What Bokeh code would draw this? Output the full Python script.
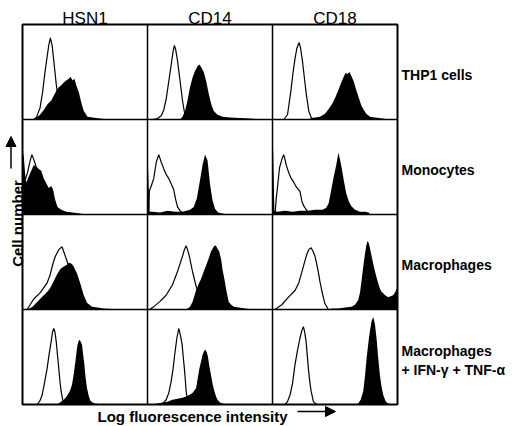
import math
from bokeh.plotting import figure
from bokeh.models import Range1d, Label, Arrow, NormalHead
from bokeh.embed import file_html
from bokeh.resources import INLINE

# ---------------- data ----------------
# x: relative log fluorescence (0-100 % of the 4-decade scale)
# h: cell number (% of panel height)
columns = ["HSN1", "CD14", "CD18"]
rows = ["THP1 cells", "Monocytes", "Macrophages", "Macrophages|+ IFN-\u03b3 + TNF-\u03b1"]

# THP1 cells
thp1_hsn1_iso_x = [9, 11, 14, 16, 18, 21, 22.3, 23.7, 25, 27, 29, 31, 34]
thp1_hsn1_iso_h = [0, 2, 12, 28, 50, 78, 86, 78, 62, 37, 16, 4, 0]
thp1_hsn1_ab_x = [8, 11, 14, 17, 20, 23, 25, 27, 29, 31, 33, 35, 37, 38.5, 40, 41.5, 43, 45, 47, 49, 52, 56, 62, 68]
thp1_hsn1_ab_h = [0, 2, 5, 10, 16, 20, 25, 30, 34, 36, 39, 41, 43, 45, 41, 43, 36, 29, 18, 9, 3, 2, 1, 0]
thp1_cd14_iso_x = [4, 8, 11, 13, 15, 17, 19, 20.5, 21.5, 22.5, 24, 26, 28, 29.5, 31, 33]
thp1_cd14_iso_h = [0, 1, 4, 10, 22, 40, 58, 72, 78, 74, 62, 41, 20, 8, 2, 0]
thp1_cd14_ab_x = [26, 28, 30, 32, 34, 36, 38, 40, 41.5, 43, 45, 47, 49, 51, 53, 56, 60, 66, 74, 82, 90]
thp1_cd14_ab_h = [0, 3, 9, 20, 34, 44, 51, 56, 58, 55, 50, 40, 27, 16, 9, 5, 3, 2, 1.5, 1, 0]
thp1_cd18_iso_x = [9, 12, 14.5, 16.5, 18, 19.5, 21.3, 22.5, 24, 25.5, 27, 29, 31, 33]
thp1_cd18_iso_h = [0, 5, 28, 50, 64, 75, 81, 75, 61, 44, 27, 9, 2, 0]
thp1_cd18_ab_x = [30, 34, 38, 42, 45, 48, 50.5, 53, 55, 57, 58.5, 60, 61.5, 63, 65, 67, 69, 71, 73, 75, 78, 82, 88, 94]
thp1_cd18_ab_h = [1, 2, 3, 6, 11, 17, 24, 32, 39, 45, 49, 48, 50, 46, 40, 31, 23, 15, 10, 6, 3, 2, 1, 0]

# Monocytes
mono_hsn1_iso_x = [0, 0.5, 2, 4, 6, 7.5, 9, 11, 13, 15, 17, 19, 21, 23, 25, 27, 29]
mono_hsn1_iso_h = [0, 62, 36, 44, 56, 63, 58, 50, 46, 40, 34, 28, 22, 16, 8, 3, 0]
mono_hsn1_ab_x = [0, 0.5, 1.5, 3, 5, 7, 9, 11, 13, 15, 17, 19, 21, 23, 24.5, 26, 28, 31, 35, 40, 46, 50]
mono_hsn1_ab_h = [0, 68, 40, 34, 40, 46, 52, 50, 48, 46, 38, 33, 28, 30, 26, 16, 8, 5, 3, 2, 1, 0]
mono_cd14_iso_x = [1, 1.5, 3, 5, 7, 9, 11, 13, 15, 17, 19, 21, 22.5, 24, 26, 28, 30]
mono_cd14_iso_h = [0, 25, 30, 38, 55, 63, 55, 48, 42, 38, 32, 26, 16, 8, 4, 2, 0]
mono_cd14_ab_x = [0, 0.5, 1.5, 4, 10, 16, 22, 28, 34, 37, 39.5, 42, 44, 46, 48, 50, 52, 54, 56.5, 60, 64]
mono_cd14_ab_h = [0, 50, 3, 3, 2, 4, 3, 3, 5, 8, 17, 36, 52, 63, 57, 32, 15, 6, 2, 1, 0]
mono_cd18_iso_x = [2, 3, 4.5, 5.6, 7.5, 8.9, 10, 11, 13, 15, 17, 19, 21, 22, 23.5, 25, 27, 29, 30]
mono_cd18_iso_h = [0, 17, 35, 49, 58, 63, 58, 52, 44, 38, 34, 29, 26, 24, 14, 9, 5, 2, 0]
mono_cd18_ab_x = [0, 0.5, 1.5, 4, 10, 16, 22, 28, 34, 40, 43, 45, 47, 49, 51, 52.7, 54, 55.5, 57, 59, 61, 63, 66, 70, 74, 77, 78]
mono_cd18_ab_h = [0, 72, 4, 3, 4, 3, 4, 4, 5, 5, 7, 12, 26, 40, 52, 65, 58, 48, 36, 22, 14, 9, 5, 3, 3, 2, 0]

# Macrophages
macro_hsn1_iso_x = [3.7, 9, 14.4, 19.7, 22, 23.7, 25, 26.3, 29, 31.6, 33.5, 35.6, 38, 41, 43.6, 46.3, 49]
macro_hsn1_iso_h = [0, 11, 18, 28, 36, 45, 51, 56, 63, 66, 59, 51, 41, 28, 15, 6, 0]
macro_hsn1_ab_x = [4, 8, 11.7, 14, 17, 20, 22.3, 25, 27.7, 30, 31.6, 34, 35.6, 37, 38.3, 40, 41, 43.6, 46.3, 49, 51.6, 55.6, 60, 65, 72, 78]
macro_hsn1_ab_h = [0, 3, 8, 11, 15, 19, 23, 30, 37, 42, 44, 46, 47, 49, 49, 47, 45, 38, 27, 15, 7, 3, 2, 1, 0.5, 0]
macro_cd14_iso_x = [1.6, 5, 9.6, 14.9, 20, 24, 26, 28, 29.5, 30.9, 32, 33.5, 36, 38.8, 41.5, 44, 46.8]
macro_cd14_iso_h = [0, 3, 8, 15, 26, 40, 48, 56, 63, 67, 63, 56, 40, 25, 13, 4, 0]
macro_cd14_ab_x = [31, 34, 36, 38.8, 41, 42.8, 45, 46.8, 49, 50.8, 52.5, 53.5, 54.8, 56, 57.4, 59, 60, 61.5, 62.8, 64, 65, 67, 69, 73, 78, 85]
macro_cd14_ab_h = [0, 3, 8, 20, 27, 32, 40, 46, 54, 61, 65, 67, 67, 64, 61, 52, 42, 32, 22, 14, 8, 5, 3, 2, 1, 0]
macro_cd18_iso_x = [2, 7.4, 12.8, 18, 21, 23.4, 25.5, 27.4, 29, 30.9, 32.5, 34, 35.5, 36.7, 38, 39.4, 41, 42, 44.7]
macro_cd18_iso_h = [0, 5, 13, 20, 28, 39, 49, 58, 63, 65, 61, 56, 47, 39, 29, 20, 11, 6, 0]
macro_cd18_ab_x = [44, 48, 52.7, 58, 63.3, 66, 68.6, 70, 71.3, 72.6, 73.9, 75, 76, 77, 77.9, 79, 80.6, 82, 83.2, 84.5, 85.9, 87, 88.6, 90, 92.6, 94.5, 96.5, 98, 99.5, 100]
macro_cd18_ab_h = [0, 1, 1, 2, 3, 5, 10, 18, 31, 45, 58, 67, 72, 70, 65, 58, 48, 40, 34, 28, 22, 19, 17, 15, 13, 14, 15, 18, 22, 22]

# Macrophages + IFN-gamma + TNF-alpha
act_hsn1_iso_x = [11.7, 14, 15.7, 17.5, 19.7, 21.3, 22.9, 24, 25, 26, 27, 28, 29, 30, 30.9, 32.4, 34]
act_hsn1_iso_h = [0, 4, 10, 22, 38, 53, 66, 76, 80, 76, 66, 52, 38, 24, 14, 3, 0]
act_hsn1_ab_x = [27.7, 30, 33, 35, 37, 38.5, 39.6, 41, 42.3, 43.2, 44, 45, 45.7, 46.6, 47.6, 48.5, 49.5, 50.5, 51.6, 53, 54.3, 56, 58, 64]
act_hsn1_ab_h = [0, 2, 5, 8, 12, 16, 21, 32, 45, 55, 63, 67, 68, 66, 63, 53, 42, 28, 17, 9, 4, 2, 1, 0]
act_cd14_iso_x = [9.6, 13, 14.9, 17, 18.9, 20.5, 22, 23.5, 25, 26.3, 27.7, 28.6, 29.5, 30.3, 30.9, 32.2, 33.5]
act_cd14_iso_h = [0, 2, 5, 12, 24, 38, 55, 70, 80, 73, 63, 50, 38, 25, 14, 3, 0]
act_cd14_ab_x = [3, 8, 12.2, 16, 20, 24, 28, 32, 36, 38.8, 40, 41.5, 43, 44, 45.2, 46.3, 47.4, 48.4, 49.5, 50.8, 52, 53.5, 55, 56, 58, 60, 64]
act_cd14_ab_h = [0, 1, 2, 3, 5, 6, 7, 9, 12, 17, 26, 38, 46, 52, 56, 58, 55, 50, 40, 31, 22, 14, 8, 5, 2, 1, 0]
act_cd18_iso_x = [10, 12, 14, 16, 18, 20, 22, 23.5, 24.7, 25.8, 26.9, 27.8, 28.7, 29.8, 30.9, 32.7, 35.4]
act_cd18_iso_h = [0, 3, 10, 22, 42, 57, 70, 78, 82, 76, 66, 52, 38, 24, 14, 3, 0]
act_cd18_ab_x = [66, 68.6, 70.5, 72.6, 74, 75.3, 76.6, 77.9, 79.3, 80.6, 81.9, 83.2, 84.5, 85.9, 87.2, 88.6, 90, 91.2, 93, 95]
act_cd18_ab_h = [0, 1, 5, 14, 30, 49, 64, 77, 88, 92, 85, 70, 50, 31, 19, 10, 5, 2, 1, 0]

panels = [
    [(thp1_hsn1_iso_x, thp1_hsn1_iso_h, thp1_hsn1_ab_x, thp1_hsn1_ab_h),
     (thp1_cd14_iso_x, thp1_cd14_iso_h, thp1_cd14_ab_x, thp1_cd14_ab_h),
     (thp1_cd18_iso_x, thp1_cd18_iso_h, thp1_cd18_ab_x, thp1_cd18_ab_h)],
    [(mono_hsn1_iso_x, mono_hsn1_iso_h, mono_hsn1_ab_x, mono_hsn1_ab_h),
     (mono_cd14_iso_x, mono_cd14_iso_h, mono_cd14_ab_x, mono_cd14_ab_h),
     (mono_cd18_iso_x, mono_cd18_iso_h, mono_cd18_ab_x, mono_cd18_ab_h)],
    [(macro_hsn1_iso_x, macro_hsn1_iso_h, macro_hsn1_ab_x, macro_hsn1_ab_h),
     (macro_cd14_iso_x, macro_cd14_iso_h, macro_cd14_ab_x, macro_cd14_ab_h),
     (macro_cd18_iso_x, macro_cd18_iso_h, macro_cd18_ab_x, macro_cd18_ab_h)],
    [(act_hsn1_iso_x, act_hsn1_iso_h, act_hsn1_ab_x, act_hsn1_ab_h),
     (act_cd14_iso_x, act_cd14_iso_h, act_cd14_ab_x, act_cd14_ab_h),
     (act_cd18_iso_x, act_cd18_iso_h, act_cd18_ab_x, act_cd18_ab_h)],
]

# ---------------- layout ----------------
NC, NR = len(columns), len(rows)
W, H = 520, 426                     # canvas size (px)
GL, GR, GT, GB = 22, 397, 24, 404   # panel-grid edges in canvas px
sx = (GR - GL) / (100 * NC)         # px per data unit (x)
sy = (GB - GT) / (100 * NR)         # px per data unit (y)
x_lo = -GL / sx
x_hi = 100 * NC + (W - GR) / sx
y_lo = -(H - GB) / sy
y_hi = 100 * NR + GT / sy

p = figure(width=W, height=H, output_backend="svg", toolbar_location=None,
           x_range=Range1d(x_lo, x_hi), y_range=Range1d(y_lo, y_hi),
           min_border=0, min_border_left=0, min_border_right=0,
           min_border_top=0, min_border_bottom=0)
p.xaxis.visible = False
p.yaxis.visible = False
p.grid.visible = False
p.outline_line_color = None
p.background_fill_color = "white"
p.border_fill_color = "white"

for r in range(NR):
    y0 = (NR - 1 - r) * 100
    for c in range(NC):
        x0 = c * 100
        ix, ih, ax, ah = panels[r][c]
        p.varea(x=[x0 + v for v in ax], y1=[y0] * len(ax), y2=[y0 + v for v in ah],
                fill_color="black")
        p.line(x=[x0 + v for v in ix], y=[y0 + v for v in ih], line_color="black",
               line_width=1.2)

# inner grid lines and outer frame
p.segment(x0=[c * 100 for c in range(1, NC)], y0=[0] * (NC - 1),
          x1=[c * 100 for c in range(1, NC)], y1=[100 * NR] * (NC - 1),
          line_color="black", line_width=1.5)
p.segment(x0=[0] * (NR - 1), y0=[r * 100 for r in range(1, NR)],
          x1=[100 * NC] * (NR - 1), y1=[r * 100 for r in range(1, NR)],
          line_color="black", line_width=1.5)
p.rect(x=[50 * NC], y=[50 * NR], width=[100 * NC], height=[100 * NR],
       fill_color=None, line_color="black", line_width=2)

FONT = "Liberation Sans"
for c, name in enumerate(columns):
    p.add_layout(Label(x=c * 100 + 50, y=100 * NR, y_offset=6, text=name, text_align="center",
                       text_baseline="alphabetic", text_font=FONT, text_font_size="17px",
                       text_color="black"))

for r, name in enumerate(rows):
    yc = (NR - 1 - r) * 100 + 50
    parts = name.split("|")
    n = len(parts)
    for k, part in enumerate(parts):
        off = ((n - 1) / 2 - k) * 19
        p.add_layout(Label(x=100 * NC, x_offset=4, y=yc, y_offset=off - 3, text=part,
                           text_align="left", text_baseline="alphabetic", text_font=FONT,
                           text_font_size="14px", text_font_style="bold", text_color="black"))

# axis captions with arrows
p.add_layout(Label(x=0, x_offset=-5, y=(GB - 223) / sy, text="Cell number", angle=math.pi / 2,
                   text_align="center", text_baseline="alphabetic", text_font=FONT,
                   text_font_size="15px", text_font_style="bold", text_color="black"))
p.add_layout(Arrow(x_start=-11.5 / sx, y_start=(GB - 168) / sy,
                   x_end=-11.5 / sx, y_end=(GB - 136) / sy, line_width=1.5,
                   end=NormalHead(size=10, fill_color="black", line_color="black")))
p.add_layout(Label(x=75 / sx, y=0, y_offset=-12, text="Log fluorescence intensity",
                   text_align="left", text_baseline="alphabetic", text_font=FONT,
                   text_font_size="15px", text_font_style="bold", text_color="black"))
p.add_layout(Arrow(x_start=275 / sx, y_start=-7 / sy, x_end=313 / sx,
                   y_end=-7 / sy, line_width=1.5,
                   end=NormalHead(size=10, fill_color="black", line_color="black")))

open("out.html", "w").write(file_html(p, INLINE))
